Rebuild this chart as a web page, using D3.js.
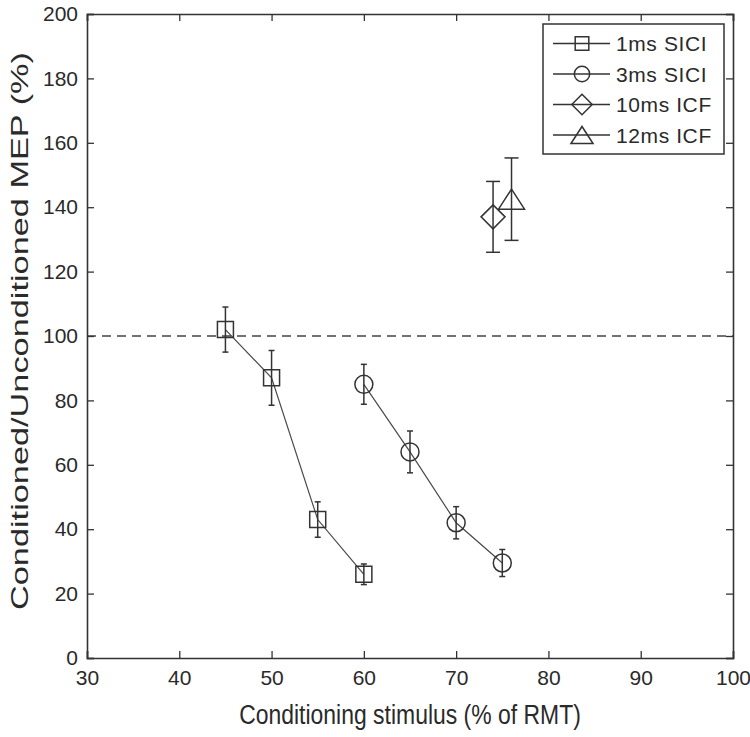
<!DOCTYPE html>
<html><head><meta charset="utf-8">
<script src="https://cdn.jsdelivr.net/npm/d3@7"></script>
<style>body{margin:0;background:#fff}svg{display:block}text{font-family:"Liberation Sans",Arial,sans-serif;fill:#2a2a2a}</style>
</head><body><svg id="c" width="750" height="737"></svg>
<script>
const xTicks = [30,40,50,60,70,80,90,100];
const yTicks = [0,20,40,60,80,100,120,140,160,180,200];
const sici1X = [45,50,55,60];
const sici1Y = [102,87,43,26];
const sici1E = [7,8.5,5.5,3.2];
const sici3X = [60,65,70,75];
const sici3Y = [85,64,42,29.5];
const sici3E = [6.2,6.5,5,4.2];
const icf10X = [74];
const icf10Y = [137];
const icf10E = [11];
const icf12X = [76];
const icf12Y = [142.5];
const icf12E = [12.8];
const seriesNames = ["1ms SICI","3ms SICI","10ms ICF","12ms ICF"];
const baseline = 100;

const svg = d3.select("#c");
const L=87,R=733,T=14,B=658;
const x = d3.scaleLinear().domain([30,100]).range([L,R]);
const y = d3.scaleLinear().domain([0,200]).range([B,T]);
const ink="#333";

// dashed baseline
svg.append("line").attr("x1",x(30)).attr("x2",x(100)).attr("y1",y(baseline)).attr("y2",y(baseline))
  .attr("stroke","#444").attr("stroke-width",1.6).attr("stroke-dasharray","9,6");

// axes
const ax = svg.append("g").attr("transform",`translate(0,${B})`).call(d3.axisBottom(x).tickValues(xTicks).tickSize(-7).tickPadding(12).tickFormat(d3.format("d")));
const axT = svg.append("g").attr("transform",`translate(0,${T})`).call(d3.axisTop(x).tickValues(xTicks).tickSize(-7).tickFormat(""));
const ay = svg.append("g").attr("transform",`translate(${L},0)`).call(d3.axisLeft(y).tickValues(yTicks).tickSize(-7).tickPadding(9));
const ayR = svg.append("g").attr("transform",`translate(${R},0)`).call(d3.axisRight(y).tickValues(yTicks).tickSize(-7).tickFormat(""));
[ax,axT,ay,ayR].forEach(g=>{g.selectAll("path").attr("stroke",ink).attr("stroke-width",1.6);g.selectAll("line").attr("stroke",ink).attr("stroke-width",1.3);g.selectAll("text").attr("font-size",21).attr("fill","#2a2a2a").attr("font-family","Liberation Sans, Arial, sans-serif");});

svg.append("text").attr("transform",`translate(${(L+R)/2},724) scale(0.85,1)`).attr("text-anchor","middle").attr("font-size",27).text("Conditioning stimulus (% of RMT)");
svg.append("text").attr("transform",`translate(28,331) scale(0.85,1) rotate(-90)`).attr("text-anchor","middle").attr("font-size",28).attr("textLength",558).attr("lengthAdjust","spacingAndGlyphs").attr("fill","#333").text("Conditioned/Unconditioned MEP (%)");

function marker(g, type, cx, cy, k){
  k = k||1;
  const s = g.append("path").attr("fill","none").attr("stroke",ink).attr("stroke-width",1.5);
  if(type==="sq") s.attr("d",`M${cx-8*k},${cy-8*k}h${16*k}v${16*k}h${-16*k}z`);
  if(type==="ci") s.attr("d",d3.arc()({innerRadius:0,outerRadius:9*k,startAngle:0,endAngle:2*Math.PI})).attr("transform",`translate(${cx},${cy})`);
  if(type==="di") s.attr("d",`M${cx},${cy-12*k}L${cx+12*k},${cy}L${cx},${cy+12*k}L${cx-12*k},${cy}Z`);
  if(type==="tr") s.attr("d",`M${cx},${cy-10*k}L${cx+13*k},${cy+10*k}L${cx-13*k},${cy+10*k}Z`);
}
function series(X,Y,E,type,cap){
  const g = svg.append("g");
  const pts = X.map((v,i)=>[x(v),y(Y[i])]);
  if(pts.length>1) g.append("path").attr("d",d3.line()(pts)).attr("fill","none").attr("stroke","#4a4a4a").attr("stroke-width",1.2);
  X.forEach((v,i)=>{
    const cx=x(v), y1=y(Y[i]+E[i]), y2=y(Y[i]-E[i]);
    g.append("line").attr("x1",cx).attr("x2",cx).attr("y1",y1).attr("y2",y2).attr("stroke",ink).attr("stroke-width",1.5);
    [y1,y2].forEach(yy=>g.append("line").attr("x1",cx-cap).attr("x2",cx+cap).attr("y1",yy).attr("y2",yy).attr("stroke",ink).attr("stroke-width",1.5));
    marker(g,type,cx,y(Y[i]));
  });
}
series(sici1X,sici1Y,sici1E,"sq",3);
series(sici3X,sici3Y,sici3E,"ci",3);
series(icf10X,icf10Y,icf10E,"di",7);
series(icf12X,icf12Y,icf12E,"tr",7);

// legend
const lg = svg.append("g");
lg.append("rect").attr("x",543).attr("y",24).attr("width",181).attr("height",130).attr("fill","#fff").attr("stroke",ink).attr("stroke-width",1.5);
const types=["sq","ci","di","tr"];
seriesNames.forEach((n,i)=>{
  const yy = 43.5+i*30.5;
  lg.append("line").attr("x1",553).attr("x2",610).attr("y1",yy).attr("y2",yy).attr("stroke",ink).attr("stroke-width",1.3);
  marker(lg,types[i],582,yy,0.85);
  lg.append("text").attr("x",616).attr("y",yy+7.5).attr("font-size",21).attr("letter-spacing",0.6).text(n);
});
</script></body></html>
